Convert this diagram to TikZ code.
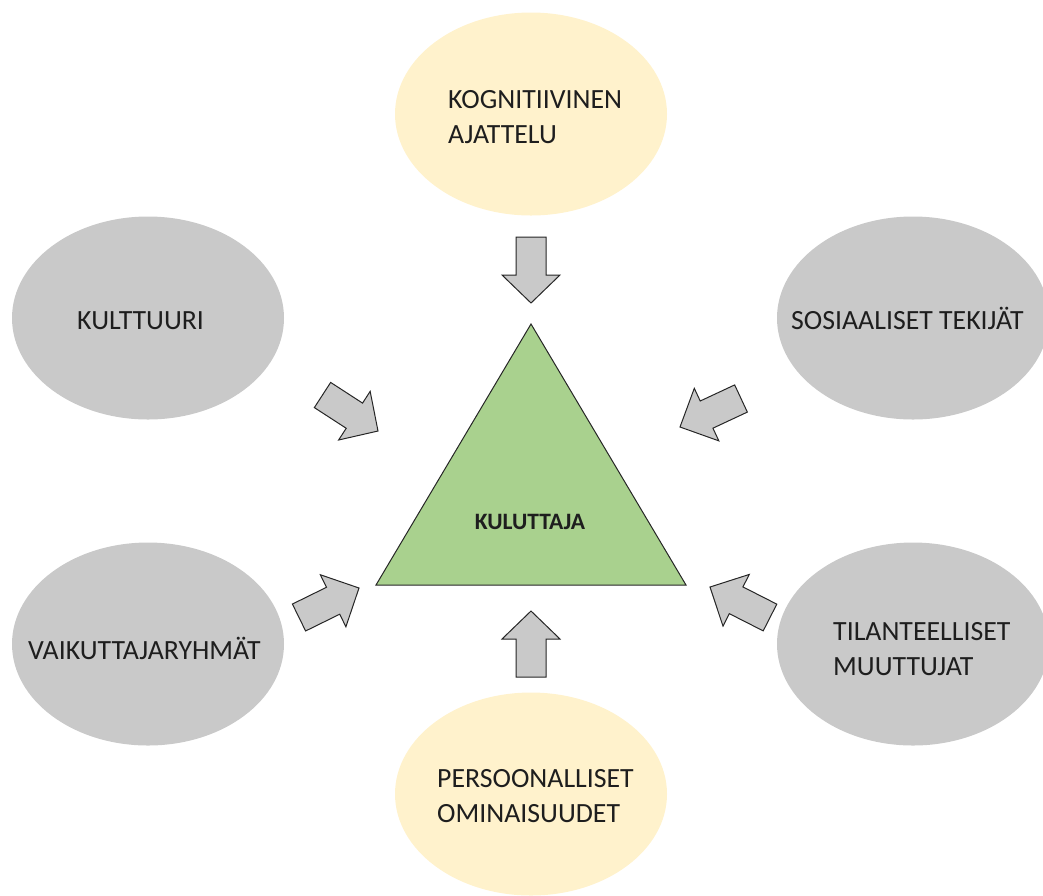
\documentclass[tikz,border=0pt]{standalone}
\usepackage{fontspec}
\setmainfont{Carlito}
\usetikzlibrary{shapes.geometric,calc}
\definecolor{grayfill}{HTML}{C9C9C9}
\definecolor{yellowfill}{HTML}{FFF2CC}
\definecolor{greenfill}{HTML}{A9D18E}
\definecolor{outlinecol}{HTML}{262626}
\definecolor{textcol}{HTML}{1E1E1E}
\newcommand\blockarrow[2]{% #1 tail, #2 tip
  \coordinate (#1-b) at ($(#1)!38pt!(#2)$);
  \draw[barrow] ($(#1)!15pt!90:(#2)$) -- ($(#1-b)!15pt!90:(#2)$) -- ($(#1-b)!29pt!90:(#2)$) -- (#2)
    -- ($(#1-b)!29pt!-90:(#2)$) -- ($(#1-b)!15pt!-90:(#2)$) -- ($(#1)!15pt!-90:(#2)$) -- cycle;
}
\begin{document}
\begin{tikzpicture}[x=1pt,y=-1pt,
  blob/.style={ellipse, minimum width=272pt, minimum height=203pt, inner sep=0pt, draw=none},
  grayblob/.style={blob, fill=grayfill},
  yellowblob/.style={blob, fill=yellowfill},
  lbl/.style={font=\fontsize{27.8}{35}\selectfont, align=left, inner sep=0pt, anchor=base west, text=textcol},
  barrow/.style={fill=grayfill, draw=outlinecol, line width=1pt, line join=miter},
]
\useasboundingbox (0,0) rectangle (1043,895);
\begin{scope}
\clip (0,0) rectangle (1043,895);
\node[yellowblob] (kog) at (531,114) {};
\node[grayblob] (kul) at (148,318) {};
\node[grayblob] (sos) at (913,318) {};
\node[grayblob] (vai) at (148,644) {};
\node[grayblob] (til) at (913,644) {};
\node[yellowblob] (per) at (531,794) {};
\end{scope}

\node[lbl] (kogt) at (448,143) {KOGNITIIVINEN\\AJATTELU};
\node[lbl] (kult) at (77,329) {KULTTUURI};
\node[lbl] (sost) at (791,329) {SOSIAALISET TEKIJÄT};
\node[lbl] (vait) at (28,659) {VAIKUTTAJARYHMÄT};
\node[lbl] (tilt) at (833,675) {TILANTEELLISET\\MUUTTUJAT};
\node[lbl] (pert) at (437,822) {PERSOONALLISET\\OMINAISUUDET};

\coordinate (apex) at (531,324);
\coordinate (bl) at (376,585);
\coordinate (br) at (686,585);
\draw[fill=greenfill, draw=outlinecol, line width=1pt, line join=miter] (apex) -- (br) -- (bl) -- cycle;
\node[font=\bfseries\fontsize{23.5}{28}\selectfont, text=textcol, inner sep=0pt, anchor=base] (kuluttaja) at (530,529) {KULUTTAJA};

\coordinate (t1) at (531,237);   \coordinate (h1) at (531,303);
\coordinate (t2) at (531,677);   \coordinate (h2) at (531,611);
\coordinate (t3) at (322.5,395); \coordinate (h3) at (378,431);
\coordinate (t4) at (741,398.5); \coordinate (h4) at (680,427);
\coordinate (t5) at (299,617.5); \coordinate (h5) at (359,588);
\coordinate (t6) at (770,617.5); \coordinate (h6) at (710,587);
\blockarrow{t1}{h1}
\blockarrow{t2}{h2}
\blockarrow{t3}{h3}
\blockarrow{t4}{h4}
\blockarrow{t5}{h5}
\blockarrow{t6}{h6}
\end{tikzpicture}
\end{document}
